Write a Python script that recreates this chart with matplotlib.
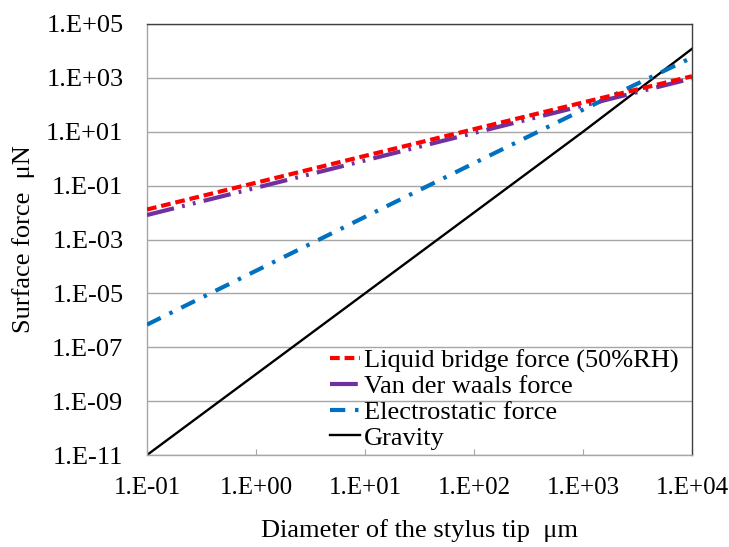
import matplotlib
matplotlib.use("Agg")
import matplotlib.pyplot as plt
from matplotlib.ticker import FixedLocator, FuncFormatter, NullLocator

plt.rcParams['font.family'] = ['Liberation Serif', 'DejaVu Serif']
plt.rcParams['lines.scale_dashes'] = False

# Data
diameter_um = [0.1, 1, 10, 100, 1000, 10000]
liquid_bridge = [1.3e-2, 1.28e-1, 1.27, 12.5, 1.22e2, 1.15e3]
van_der_waals = [8.1e-3, 8.3e-2, 0.86, 9.0, 93, 9.5e2]
electrostatic = [6.9e-7, 6.9e-5, 6.9e-3, 0.68, 66, 5.7e3]
gravity = [1e-11, 1e-8, 1e-5, 1e-2, 10, 1.2e4]

labels = ["Liquid bridge force (50%RH)", "Van der waals force",
          "Electrostatic force", "Gravity"]
x_ticks = [1e-1, 1e0, 1e1, 1e2, 1e3, 1e4]
y_ticks = [1e-11, 1e-9, 1e-7, 1e-5, 1e-3, 1e-1, 1e1, 1e3, 1e5]

FS = 19

fig = plt.figure(figsize=(7.29, 5.47), dpi=100)
ax = fig.add_axes([147/729, 1-455/547, 545/729, 431/547])

ax.plot(diameter_um, liquid_bridge, color='#FF0000', lw=3.0,
        dashes=(7, 3.5), label=labels[0], zorder=5)
ax.plot(diameter_um, van_der_waals, color='#7030A0', lw=3.0,
        dashes=(20, 6, 2, 6, 2, 6), label=labels[1], zorder=4)
ax.plot(diameter_um, electrostatic, color='#0070C0', lw=3.0,
        dashes=(11, 7, 2.5, 7), label=labels[2], zorder=3)
ax.plot(diameter_um, gravity, color='black', lw=1.7, label=labels[3], zorder=2)

ax.set_xscale('log')
ax.set_yscale('log')
ax.set_xlim(1e-1, 1e4)
ax.set_ylim(1e-11, 1e5)

def fmt(v, pos):
    import math
    e = int(round(math.log10(v)))
    sign = '+' if e >= 0 else '-'
    return f"1.E{sign}{abs(e):02d}"

ax.xaxis.set_major_locator(FixedLocator(x_ticks))
ax.yaxis.set_major_locator(FixedLocator(y_ticks))
ax.xaxis.set_minor_locator(NullLocator())
ax.yaxis.set_minor_locator(NullLocator())
ax.xaxis.set_major_formatter(FuncFormatter(fmt))
ax.yaxis.set_major_formatter(FuncFormatter(fmt))

ax.yaxis.grid(True, color='#A6A6A6', lw=1.0)
ax.set_axisbelow(True)

ax.tick_params(axis='x', direction='in', length=4, width=0.8, color='#A6A6A6',
               labelsize=18, pad=16)
ax.tick_params(axis='y', length=0, labelsize=FS, pad=17)

for s in ['left', 'bottom']:
    ax.spines[s].set_color('#A6A6A6')
    ax.spines[s].set_linewidth(1.0)
for s in ['top', 'right']:
    ax.spines[s].set_color('#404040')
    ax.spines[s].set_linewidth(1.0)

ax.set_xlabel("Diameter of the stylus tip  \u03bcm", fontsize=FS, labelpad=14)
ax.set_ylabel("Surface force  \u03bcN", fontsize=FS, labelpad=8)

leg = ax.legend(loc='upper left', bbox_to_anchor=((330-147)/545, (455-349)/431),
                frameon=False, fontsize=FS, handlelength=1.15,
                handletextpad=0.15, labelspacing=0.08, borderpad=0,
                borderaxespad=0)
leg.set_zorder(10)

fig.savefig("out.png", dpi=100)
